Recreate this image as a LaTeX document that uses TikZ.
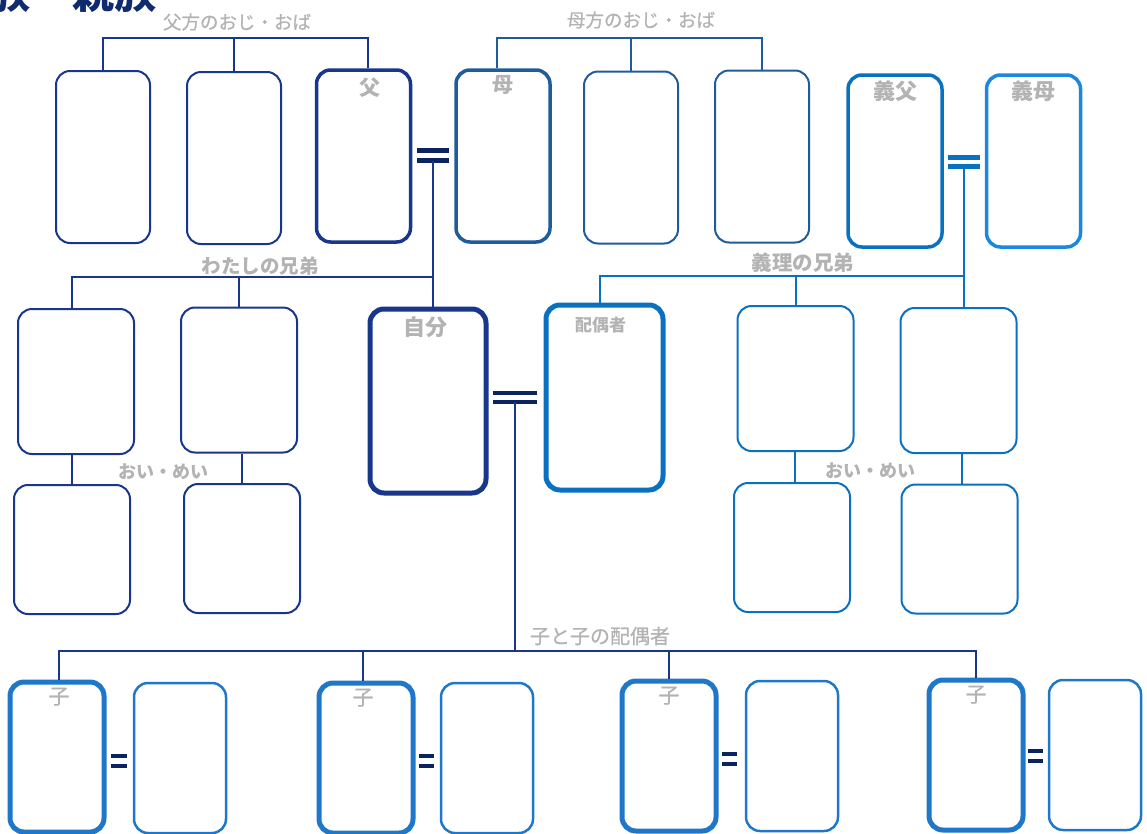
\documentclass[tikz,border=0pt]{standalone}
\usepackage{fontspec}
\newfontfamily\jp{Noto Sans CJK JP}
\newfontfamily\jpm{Noto Sans CJK JP}[FakeBold=0.8]
\usetikzlibrary{positioning}
\definecolor{cFam}{HTML}{17368C}
\definecolor{cMat}{HTML}{1F5C9C}
\definecolor{cInl}{HTML}{0A70C0}
\definecolor{cInlB}{HTML}{1C87DE}
\definecolor{cKid}{HTML}{1F77C9}
\definecolor{cBar}{HTML}{0C2361}
\definecolor{cLbl}{HTML}{B3B3B3}
\definecolor{cTitle}{HTML}{0F2A6E}

\begin{document}
\begin{tikzpicture}[x=1pt,y=-1pt,
  box/.style={draw,rounded corners=14pt,inner sep=0pt,line width=2pt},
  tall/.style={box,minimum width=94pt,minimum height=172pt},
  wide/.style={box,minimum width=116pt,minimum height=145pt},
  low/.style={box,minimum width=116pt,minimum height=129pt},
  kid/.style={box,minimum width=94pt,minimum height=150pt},
  tag/.style={text=cLbl,inner sep=0pt,font=\jp\bfseries\fontsize{20}{20}\selectfont},
  thin/.style={tag,font=\jpm\fontsize{19}{19}\selectfont},
  eq/.style={inner sep=0pt,minimum width=32pt,minimum height=9.5pt},
  bar/.style={line width=5pt,draw=cBar},
  link/.style={line width=2pt}]
\clip (0,0) rectangle (1147,833);
\node[anchor=base west,inner sep=0pt,text=cTitle,font=\jp\bfseries\fontsize{42}{42}\selectfont] (title) at (-12,8) {族　親族};

% parents and their brothers and sisters
\node[tall,draw=cFam] (u1) at (103,157) {};
\node[tall,draw=cFam] (u2) at (234,158) {};
\node[tall,draw=cFam,line width=3.5pt] (fa) at (363.5,156) {};
\node[tall,draw=cMat,line width=3.5pt] (mo) at (503,156) {};
\node[tall,draw=cMat] (m2) at (631,157.5) {};
\node[tall,draw=cMat] (m3) at (762,156.5) {};
\node[tall,draw=cInl,line width=3.5pt] (gf) at (895,161) {};
\node[tall,draw=cInlB,line width=3.5pt] (gm) at (1033.5,161) {};
\node[tag,font=\jp\bfseries\fontsize{21}{21}\selectfont,below=9pt of fa.north,xshift=6pt] (faL) {父};
\node[tag,font=\jp\bfseries\fontsize{21}{21}\selectfont,below=7pt of mo.north] (moL) {母};
\node[tag,font=\jp\bfseries\fontsize{22}{22}\selectfont,below=7pt of gf.north] (gfL) {義父};
\node[tag,font=\jp\bfseries\fontsize{22}{22}\selectfont,below=7pt of gm.north] (gmL) {義母};

\coordinate (patJ) at (237,38);
\coordinate (matJ) at (631,38);
\node[thin,font=\jpm\fontsize{18.5}{18.5}\selectfont] (patL) at (237,22) {父方のおじ・おば};
\node[thin,font=\jpm\fontsize{18.5}{18.5}\selectfont] (matL) at (641,20) {母方のおじ・おば};
\draw[link,cFam] (u1.north) |- (patJ) -| ([xshift=4.5pt]fa.north);
\draw[link,cFam] (u2.north) -- (u2.north |- patJ);
\draw[link,cMat] ([xshift=-6pt]mo.north) |- (matJ) -| (m3.north);
\draw[link,cMat] (m2.north) -- (m2.north |- matJ);

% me, my spouse, brothers and sisters
\node[wide,draw=cFam] (s1) at (76,381.5) {};
\node[wide,draw=cFam] (s2) at (239,380) {};
\node[box,draw=cFam,line width=5pt,minimum width=116pt,minimum height=184pt] (me) at (428,401) {};
\node[box,draw=cInl,line width=5pt,minimum width=117pt,minimum height=185pt] (sp) at (604.5,397.5) {};
\node[wide,draw=cInl] (l1) at (795.5,378.5) {};
\node[wide,draw=cInl] (l2) at (958.5,380.5) {};
\node[tag,font=\jp\bfseries\fontsize{22}{22}\selectfont,below=10pt of me.north,xshift=-3pt] (meL) {自分};
\node[tag,font=\jp\bfseries\fontsize{17}{17}\selectfont,below=14pt of sp.north,xshift=-4pt] (spL) {配偶者};

\node[eq] (e1) at (433,155.75) {};
\draw[bar] (e1.north west) -- (e1.north east) (e1.south west) -- (e1.south east);
\node[eq,minimum height=9pt] (e2) at (964,162) {};
\draw[bar,draw=cInl] (e2.north west) -- (e2.north east) (e2.south west) -- (e2.south east);

\coordinate (sibJ) at (433,277);
\coordinate (ilJ) at (964,276);
\node[tag,font=\jp\bfseries\fontsize{19.5}{19.5}\selectfont] (sibL) at (260,266) {わたしの兄弟};
\node[tag,font=\jp\bfseries\fontsize{20.5}{20.5}\selectfont] (ilL) at (803,263) {義理の兄弟};
\draw[link,cFam] (e1.south) -- (e1.south |- me.north);
\draw[link,cFam] ([xshift=-4pt]s1.north) |- (sibJ);
\draw[link,cFam] (s2.north) -- (s2.north |- sibJ);
\draw[link,cInl] (e2.south) -- (e2.south |- l2.north);
\draw[link,cInl] ([xshift=-4.5pt]sp.north) |- (ilJ);
\draw[link,cInl] (l1.north) -- (l1.north |- ilJ);

% nephews and nieces
\node[low,draw=cFam] (n1) at (72,549.5) {};
\node[low,draw=cFam] (n2) at (242,548.5) {};
\node[low,draw=cInl] (n3) at (792,547.5) {};
\node[low,draw=cInl] (n4) at (959.5,549) {};
\node[tag,font=\jp\bfseries\fontsize{18}{18}\selectfont] (nL1) at (163,472) {おい・めい};
\node[tag,font=\jp\bfseries\fontsize{18}{18}\selectfont] (nL2) at (870,471) {おい・めい};
\draw[link,cFam] (n1.north) -- (n1.north |- s1.south);
\draw[link,cFam] (n2.north) -- (n2.north |- s2.south);
\draw[link,cInl] ([xshift=3pt]n3.north) -- ([xshift=3pt]n3.north |- l1.south);
\draw[link,cInl] ([xshift=2.5pt]n4.north) -- ([xshift=2.5pt]n4.north |- l2.south);

% children and their spouses
\node[kid,draw=cKid,line width=5pt] (c1) at (57,757) {};
\node[kid,draw=cKid,line width=2.5pt,minimum width=92pt] (k1) at (180,758) {};
\node[kid,draw=cKid,line width=5pt] (c2) at (366,758) {};
\node[kid,draw=cKid,line width=2.5pt,minimum width=92pt] (k2) at (487,758) {};
\node[kid,draw=cKid,line width=5pt] (c3) at (669,756) {};
\node[kid,draw=cKid,line width=2.5pt,minimum width=92pt] (k3) at (792,756) {};
\node[kid,draw=cKid,line width=5pt] (c4) at (976,755) {};
\node[kid,draw=cKid,line width=2.5pt,minimum width=92pt] (k4) at (1095,755) {};
\node[thin,font=\jpm\fontsize{21}{21}\selectfont,below=8pt of c1.north,xshift=2pt] (c1L) {子};
\node[thin,font=\jpm\fontsize{21}{21}\selectfont,below=8pt of c2.north,xshift=-3pt] (c2L) {子};
\node[thin,font=\jpm\fontsize{21}{21}\selectfont,below=8pt of c3.north] (c3L) {子};
\node[thin,font=\jpm\fontsize{21}{21}\selectfont,below=8pt of c4.north] (c4L) {子};

\node[eq,minimum width=44pt,minimum height=9pt] (e3) at (515,397.5) {};
\draw[bar,line width=4.5pt] (e3.north west) -- (e3.north east) (e3.south west) -- (e3.south east);
\node[eq,minimum width=15pt,minimum height=10pt] (q1) at (119,761) {};
\node[eq,minimum width=15pt,minimum height=10pt] (q2) at (426.5,761) {};
\node[eq,minimum width=15pt,minimum height=10pt] (q3) at (729.5,759) {};
\node[eq,minimum width=15pt,minimum height=10pt] (q4) at (1035.5,756) {};
\draw[bar,line width=4.5pt] (q1.north west) -- (q1.north east) (q1.south west) -- (q1.south east)
  (q2.north west) -- (q2.north east) (q2.south west) -- (q2.south east)
  (q3.north west) -- (q3.north east) (q3.south west) -- (q3.south east)
  (q4.north west) -- (q4.north east) (q4.south west) -- (q4.south east);

\coordinate (kidJ) at (515,651);
\node[thin,font=\jpm\fontsize{20}{20}\selectfont] (kidL) at (600,636) {子と子の配偶者};
\draw[link,cFam] (e3.south) -- (kidJ);
\draw[link,cFam] ([xshift=2pt]c1.north) |- (kidJ) -| (c4.north);
\draw[link,cFam] ([xshift=-3pt]c2.north) -- ([xshift=-3pt]c2.north |- kidJ);
\draw[link,cFam] (c3.north) -- (c3.north |- kidJ);
\end{tikzpicture}
\end{document}
